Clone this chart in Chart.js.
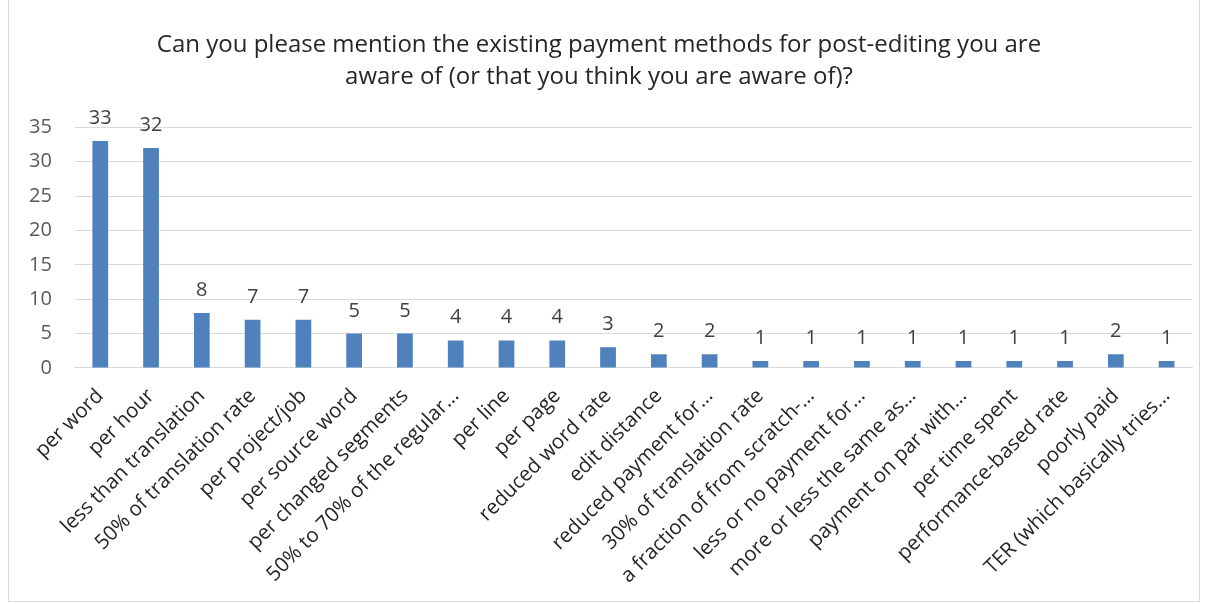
<!DOCTYPE html>
<html>
<head>
<meta charset="utf-8">
<script src="https://cdn.jsdelivr.net/npm/chart.js@4/dist/chart.umd.min.js"></script>
<style>
html,body{margin:0;padding:0;background:#fff;}
#frame{position:absolute;left:8px;top:-2px;width:1192px;height:604px;border:1px solid #d9d9d9;box-sizing:border-box;}
#wrap{position:absolute;left:0;top:0;width:1210px;height:604px;}
</style>
</head>
<body>
<div id="frame"></div>
<div id="wrap"><canvas id="chart" width="1210" height="604"></canvas></div>
<script>
const titleLines = [
"Can you please mention the existing payment methods for post-editing you are",
"aware of (or that you think you are aware of)?"
];

const methods = [
"per word","per hour","less than translation","50% of translation rate",
"per project/job","per source word","per changed segments",
"50% to 70% of the regular…","per line","per page","reduced word rate",
"edit distance","reduced payment for…","30% of translation rate",
"a fraction of from scratch-…","less or no payment for…",
"more or less the same as…","payment on par with…","per time spent",
"performance-based rate","poorly paid","TER (which basically tries…"
];

const counts = [33,32,8,7,7,5,5,4,4,4,3,2,2,1,1,1,1,1,1,1,2,1];

const yTicks = [0,5,10,15,20,25,30,35];

const FONT = "'Open Sans', 'Noto Sans', sans-serif";

// value labels above each bar
const barValues = {
  id:"barValues",
  afterDatasetsDraw(chart){
    const ctx = chart.ctx;
    const meta = chart.getDatasetMeta(0);
    ctx.save();
    ctx.font = "20px " + FONT;
    ctx.fillStyle = "#404040";
    ctx.textAlign = "center";
    ctx.textBaseline = "alphabetic";
    meta.data.forEach((bar,i)=>{
      ctx.fillText(String(counts[i]), bar.x, bar.y - 17);
    });
    ctx.restore();
  }
};

new Chart(document.getElementById("chart"),{
type:"bar",
data:{
labels:methods,
datasets:[{
data:counts,
backgroundColor:"#4f81bd",
barPercentage:0.62,
categoryPercentage:0.5
}]
},
options:{
responsive:false,
animation:false,
layout:{padding:{left:6,right:18,top:0,bottom:8}},
plugins:{
legend:{display:false},
tooltip:{enabled:false},
title:{
display:true,
text:titleLines,
color:"#262626",
font:{family:FONT,size:24,weight:"normal",lineHeight:1.34},
padding:{top:29,bottom:34}
}
},
scales:{
x:{
grid:{display:false},
border:{color:"#d9d9d9"},
ticks:{
color:"#262626",
font:{family:FONT,size:20.5},
maxRotation:45,
minRotation:45,
autoSkip:false,
padding:8
}
},
y:{
min:0,
max:35,
afterBuildTicks(axis){ axis.ticks = yTicks.map(v=>({value:v})); },
grid:{color:"#d9d9d9",drawTicks:false},
border:{display:false},
ticks:{
color:"#595959",
font:{family:FONT,size:20},
padding:23
}
}
}
},
plugins:[barValues]
});
</script>
</body>
</html>
